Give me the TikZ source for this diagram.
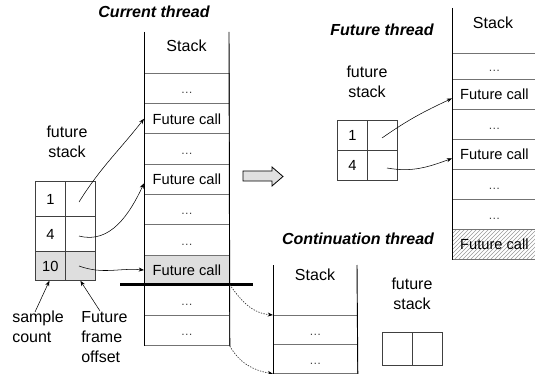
\documentclass[tikz,border=0pt]{standalone}
\usepackage{fontspec}
\setmainfont{Liberation Sans}
\usetikzlibrary{arrows.meta,patterns}
\newcommand\mydots{{\fontsize{9}{10}\selectfont\color{black!75}\ldots}}
\begin{document}
\begin{tikzpicture}[x=0.75pt,y=-0.75pt,
  cell/.style={draw=black!55, line width=0.6pt, inner sep=0pt, anchor=north west,
    font=\fontsize{11}{13}\selectfont, text height=8pt, text depth=0pt},
  crow/.style={cell, minimum width=63.75pt, minimum height=22.6875pt},
  frow/.style={cell, minimum width=63pt, minimum height=22.5pt},
  krow/.style={cell, minimum width=63pt, minimum height=21.75pt},
  tcell/.style={cell, draw=black!75, minimum width=22.5pt},
  graycell/.style={fill=black!13},
  vline/.style={line width=0.7pt, black},
  lab/.style={inner sep=0pt, font=\fontsize{12}{15}\selectfont},
  ttl/.style={inner sep=0pt, font=\fontsize{12}{15}\selectfont\bfseries\itshape},
  arr/.style={line width=0.4pt, -{Stealth[length=4pt,width=3pt]}},
  dotarr/.style={line width=0.5pt, dash pattern=on 1pt off 1pt, black!80, -{Stealth[length=4pt,width=3pt,black]}}
]
\useasboundingbox (0,0) rectangle (535,374);

% ---------- Current thread ----------
\node[ttl] (ct) at (154,12) {Current thread};
\node[lab] (cstack) at (186.5,46) {Stack};
\node[crow] (c1) at (144,73) {\mydots};
\node[crow] (c2) at (144,103.25) {Future call};
\node[crow] (c3) at (144,133.5) {\mydots};
\node[crow] (c4) at (144,163.75) {Future call};
\node[crow] (c5) at (144,194) {\mydots};
\node[crow] (c6) at (144,224.25) {\mydots};
\node[crow, graycell] (c7) at (144,254.5) {Future call};
\node[crow] (c8) at (144,284.75) {\mydots};
\node[crow] (c9) at (144,315) {\mydots};
\draw[vline] (144,32) -- (c9.south west);
\draw[vline] (229,32) -- (c9.south east);
\draw[line width=2pt] (120,284.75) -- (253,284.75);

% future stack (current thread)
\node[lab, align=center] (fs1) at (67,142) {future\\stack};
\node[tcell, minimum height=26.25pt] (a1) at (35,181) {1};
\node[tcell, minimum height=26.25pt] (b1) at (65,181) {};
\node[tcell, minimum height=26.25pt] (a2) at (35,216) {4};
\node[tcell, minimum height=26.25pt] (b2) at (65,216) {};
\node[tcell, graycell, minimum height=21.75pt] (a3) at (35,251) {10};
\node[tcell, graycell, minimum height=21.75pt] (b3) at (65,251) {};

\node[lab, align=left, anchor=west] (sc) at (12,327) {sample\\count};
\node[lab, align=left, anchor=west] (ffo) at (81,337) {Future\\frame\\offset};
\coordinate (sa) at (35,312);
\coordinate (fa) at (100,311);
\draw[arr] (sa) -- ([xshift=-0.75pt]a3.south);
\draw[arr] (fa) -- (b3.south);

\coordinate (s1) at (79,202);
\coordinate (s2) at (79,236);
\coordinate (s3) at (79,266);
\draw[arr] (s1) to[out=58,in=-128] (c2.west);
\draw[arr] (s2) to[out=-15,in=-115] ([yshift=-3pt]c4.west);
\draw[arr] (s3) to[out=-20,in=175] (c7.west);

% big hollow arrow
\draw[fill=black!12, line width=0.6pt] (243,171) -- (272,171) -- (272,167) -- (283,176.5)
  -- (272,186) -- (272,181) -- (243,181) -- cycle;

% ---------- Future thread ----------
\node[ttl] (ft) at (382,30) {Future thread};
\node[lab] (fstack) at (493,23) {Stack};
\node[frow, minimum height=19.5pt] (f1) at (452,53) {\mydots};
\node[frow] (f2) at (452,79) {Future call};
\node[frow] (f3) at (452,109) {\mydots};
\node[frow] (f4) at (452,139) {Future call};
\node[frow] (f5) at (452,169) {\mydots};
\node[frow] (f6) at (452,199) {\mydots};
\node[frow, pattern=north east lines, pattern color=black!40] (f7) at (452,229) {Future call};
\draw[vline] (452,8) -- (f7.south west);

\node[lab, align=center] (fs2) at (367,82) {future\\stack};
\node[tcell, minimum height=22.5pt] (g1) at (337,120) {1};
\node[tcell, minimum height=22.5pt] (h1) at (367,120) {};
\node[tcell, minimum height=22.5pt] (g2) at (337,150) {4};
\node[tcell, minimum height=22.5pt] (h2) at (367,150) {};
\coordinate (t1) at (382,138);
\coordinate (t2) at (387,168);
\draw[arr] (t1) to[out=35,in=-155] ([yshift=-3pt]f2.west);
\draw[arr] (t2) to[out=-10,in=-160] ([yshift=-3pt]f4.west);

% ---------- Continuation thread ----------
\node[ttl] (kt) at (358,239) {Continuation thread};
\node[lab] (kstack) at (315,275) {Stack};
\node[krow] (k1) at (273,315) {\mydots};
\node[krow] (k2) at (273,344) {\mydots};
\draw[vline] (273,265) -- (k2.south west);
\draw[vline] (357,265) -- (k2.south east);

\node[lab, align=center] (fs3) at (412,294) {future\\stack};
\node[tcell, minimum height=24.75pt] (m1) at (382,332) {};
\node[tcell, minimum height=24.75pt] (m2) at (412,332) {};

\draw[dotarr] (c8.north east) to[out=-55,in=175] (k1.north west);
\draw[dotarr] (c9.south east) to[out=-60,in=170] (k2.south west);
\end{tikzpicture}
\end{document}
